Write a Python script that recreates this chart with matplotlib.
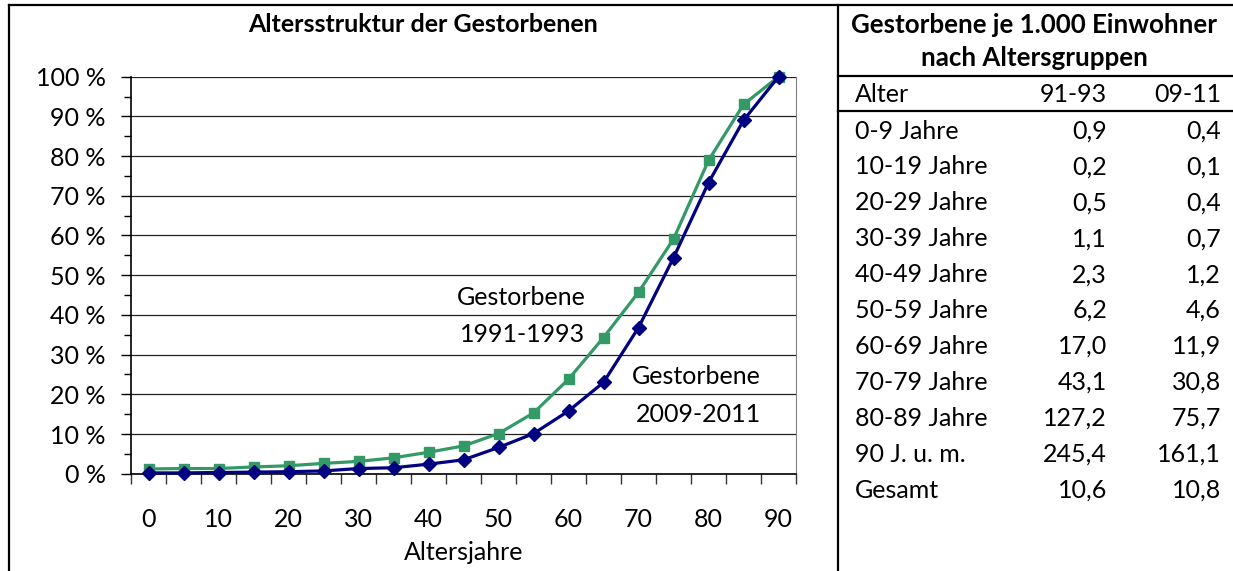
import numpy as np
import matplotlib
matplotlib.use("Agg")
from matplotlib import pyplot as plt
from matplotlib.lines import Line2D

plt.rcParams['font.family'] = ['Lato', 'DejaVu Sans']

# data
ages = [0, 5, 10, 15, 20, 25, 30, 35, 40, 45, 50, 55, 60, 65, 70, 75, 80, 85, 90]
share_9193 = [1.2, 1.3, 1.3, 1.7, 2.0, 2.6, 3.1, 4.0, 5.4, 7.0, 10.1, 15.3, 23.8, 34.3, 45.7, 59.1, 78.9, 93.0, 100.0]
share_0911 = [0.2, 0.2, 0.3, 0.4, 0.5, 0.7, 1.3, 1.5, 2.4, 3.5, 6.6, 10.1, 15.8, 23.0, 36.8, 54.4, 73.3, 89.0, 100.0]

table_groups = ["0-9 Jahre", "10-19 Jahre", "20-29 Jahre", "30-39 Jahre", "40-49 Jahre",
                "50-59 Jahre", "60-69 Jahre", "70-79 Jahre", "80-89 Jahre", "90 J. u. m.", "Gesamt"]
rate_9193 = ["0,9", "0,2", "0,5", "1,1", "2,3", "6,2", "17,0", "43,1", "127,2", "245,4", "10,6"]
rate_0911 = ["0,4", "0,1", "0,4", "0,7", "1,2", "4,6", "11,9", "30,8", "75,7", "161,1", "10,8"]

W, H = 1233, 571
green = "#339966"
navy = "#000080"
fs = 18


def fx(x):
    return x / W


def fy(y):
    return 1 - y / H


fig = plt.figure(figsize=(W / 100, H / 100), dpi=100)
ax = fig.add_axes([fx(131), fy(473.7), fx(796 - 131), (473.7 - 76.7) / H])

ax.plot(ages, share_9193, color=green, lw=2.3, marker="s", ms=6.5, zorder=4, clip_on=False)
ax.plot(ages, share_0911, color=navy, lw=2.3, marker="D", ms=7, zorder=5, clip_on=False)

ax.set_xlim(-2.5, 92.5)
ax.set_ylim(0, 100)

# x axis: tick marks between categories, labels at every second category
ax.set_xticks(np.arange(-2.5, 93, 5))
ax.set_xticklabels([])
ax.set_xticks(ages[::2], minor=True)
ax.set_xticklabels([str(a) for a in ages[::2]], minor=True, fontsize=fs)
ax.tick_params(axis="x", which="major", direction="out", length=7, width=1, color="#333333")
ax.tick_params(axis="x", which="minor", length=0, pad=25)

ax.set_yticks(np.arange(0, 101, 10))
ax.set_yticklabels([f"{v} %" for v in range(0, 101, 10)], fontsize=fs)
ax.set_yticks(np.arange(5, 100, 10), minor=True)
ax.tick_params(axis="y", which="major", direction="out", length=7, width=1, pad=11)
ax.tick_params(axis="y", which="minor", direction="out", length=5, width=1)

ax.grid(axis="y", which="major", color="#222222", lw=0.9)
ax.set_axisbelow(True)
ax.spines["top"].set_visible(False)
ax.spines["right"].set_color("#808080")
ax.spines["left"].set_linewidth(1.2)
ax.spines["bottom"].set_linewidth(1.2)

ax.set_xlabel("Altersjahre", fontsize=fs, labelpad=7)

ax.text(62.4, 39.8, "Gestorbene\n1991-1993", fontsize=fs, ha="right", va="center",
        multialignment="right", linespacing=1.75)
ax.text(87.5, 19.7, "Gestorbene\n2009-2011", fontsize=fs, ha="right", va="center",
        multialignment="right", linespacing=1.75)

fig.text(fx(423.5), fy(25), "Altersstruktur der Gestorbenen", fontsize=fs, fontweight="bold",
         ha="center", va="center")

# table on the right
fig.text(fx(1034), fy(25), "Gestorbene je 1.000 Einwohner", fontsize=18.6, fontweight="bold",
         ha="center", va="center")
fig.text(fx(1034), fy(58), "nach Altersgruppen", fontsize=18.6, fontweight="bold",
         ha="center", va="center")
fig.text(fx(855), fy(95), "Alter", fontsize=fs, ha="left", va="center")
fig.text(fx(1107), fy(95), "91-93", fontsize=fs, ha="right", va="center")
fig.text(fx(1221), fy(95), "09-11", fontsize=fs, ha="right", va="center")
for i, (g, a, b) in enumerate(zip(table_groups, rate_9193, rate_0911)):
    y = 131 + i * 35.9
    fig.text(fx(855), fy(y), g, fontsize=fs, ha="left", va="center")
    fig.text(fx(1107), fy(y), a, fontsize=fs, ha="right", va="center")
    fig.text(fx(1221), fy(y), b, fontsize=fs, ha="right", va="center")

# frame lines
frame = [((9, 9), (5, H)), ((838, 838), (5, H)), ((9, W), (5, 5)),
         ((838, W), (76, 76)), ((838, W), (111, 111))]
for xs, ys in frame:
    fig.add_artist(Line2D([fx(v) for v in xs], [fy(v) for v in ys], color="black", lw=1.6))

fig.savefig("out.png", dpi=100)
